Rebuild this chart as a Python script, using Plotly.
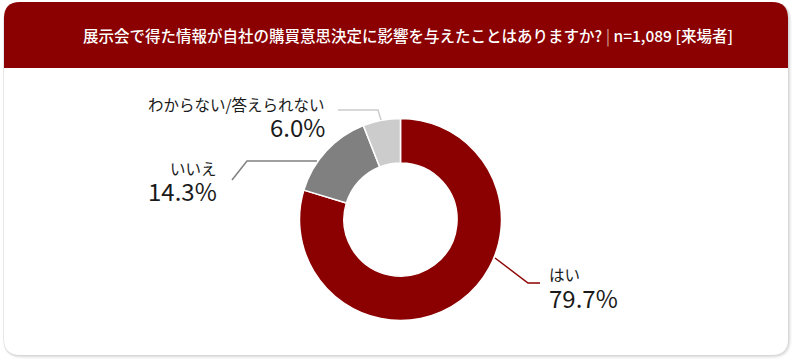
import plotly.graph_objects as go

# ---- data ----
categories = ["はい", "いいえ", "わからない/答えられない"]
values = [79.7, 14.3, 6.0]
pct_labels = ["79.7%", "14.3%", "6.0%"]
title_main = "展示会で得た情報が自社の購買意思決定に影響を与えたことはありますか?"
title_sub = "n=1,089 [来場者]"

# ---- style ----
W, H = 800, 362
colors = ["#8B0000", "#808080", "#CCCCCC"]
FONT = "Noto Sans CJK JP, Noto Sans, sans-serif"
TXT = "#1a1a1a"

# label layout (pixel positions)
label_layout = [
    dict(anchor="left", x=547, y_cat=274, y_pct=297,
         line=[(495, 258), (528, 283), (540, 283)]),
    dict(anchor="right", x=219, y_cat=168, y_pct=190,
         line=[(232, 180), (247, 161), (317, 161)]),
    dict(anchor="right", x=327, y_cat=104, y_pct=126,
         line=[(338, 110), (378, 110), (381, 120)]),
]

# donut geometry (pixels)
cx, cy, R = 400.5, 219.5, 101.0


def rrect(x0, y0, x1, y1, r, top_only=False):
    p = f"M{x0+r},{y0} L{x1-r},{y0} Q{x1},{y0} {x1},{y0+r} "
    if top_only:
        p += f"L{x1},{y1} L{x0},{y1} "
    else:
        p += f"L{x1},{y1-r} Q{x1},{y1} {x1-r},{y1} L{x0+r},{y1} Q{x0},{y1} {x0},{y1-r} "
    p += f"L{x0},{y0+r} Q{x0},{y0} {x0+r},{y0} Z"
    return p


fig = go.Figure()
fig.add_trace(go.Scatter(x=[0, W], y=[0, H], mode="markers",
                         marker=dict(opacity=0), hoverinfo="skip", showlegend=False))

fig.add_trace(go.Pie(
    labels=categories, values=values, sort=False, direction="clockwise",
    rotation=0, hole=0.56, textinfo="none", hoverinfo="skip",
    marker=dict(colors=colors, line=dict(color="white", width=1.5)),
    domain=dict(x=[(cx - R) / W, (cx + R) / W], y=[(H - cy - R) / H, (H - cy + R) / H]),
    showlegend=False,
))

shapes = []
for dx, op in [(4, 0.025), (3, 0.035), (2, 0.045), (1, 0.06)]:
    shapes.append(dict(type="path", xref="x", yref="y", layer="below",
                       path=rrect(4 - dx * 0.3, 2, 788 + dx, 355 + dx, 16 + dx),
                       fillcolor=f"rgba(0,0,0,{op})", line=dict(width=0)))
shapes.append(dict(type="path", xref="x", yref="y", layer="below",
                   path=rrect(4, 2, 788, 355, 16), fillcolor="white", line=dict(width=0)))
shapes.append(dict(type="path", xref="x", yref="y", layer="below",
                   path=rrect(4, 2, 788, 68, 16, top_only=True),
                   fillcolor="#8B0000", line=dict(width=0)))

title_html = (f"{title_main} <span style='color:rgba(255,255,255,0.55)'>|</span> {title_sub}")
annotations = [dict(x=408, y=35, xref="x", yref="y", text=title_html, showarrow=False,
                    xanchor="center", yanchor="middle",
                    font=dict(family=FONT, size=15.5, color="white", weight=500))]

for cat, pct, col, lay in zip(categories, pct_labels, colors, label_layout):
    pts = lay["line"]
    path = "M" + " L".join(f"{x},{y}" for x, y in pts)
    shapes.append(dict(type="path", xref="x", yref="y", layer="above", path=path,
                       line=dict(color=col, width=1.5)))
    annotations.append(dict(x=lay["x"], y=lay["y_cat"], xref="x", yref="y", text=cat,
                            showarrow=False, xanchor=lay["anchor"], yanchor="middle",
                            font=dict(family=FONT, size=15.5, color=TXT)))
    annotations.append(dict(x=lay["x"], y=lay["y_pct"], xref="x", yref="y", text=pct,
                            showarrow=False, xanchor=lay["anchor"], yanchor="middle",
                            font=dict(family=FONT, size=24, color=TXT)))

fig.update_layout(
    width=W, height=H, margin=dict(l=0, r=0, t=0, b=0),
    paper_bgcolor="white", plot_bgcolor="rgba(0,0,0,0)",
    xaxis=dict(range=[0, W], visible=False, fixedrange=True, domain=[0, 1]),
    yaxis=dict(range=[H, 0], visible=False, fixedrange=True, domain=[0, 1]),
    shapes=shapes, annotations=annotations, showlegend=False,
)

fig.write_html("out.html", config=dict(displayModeBar=False))
